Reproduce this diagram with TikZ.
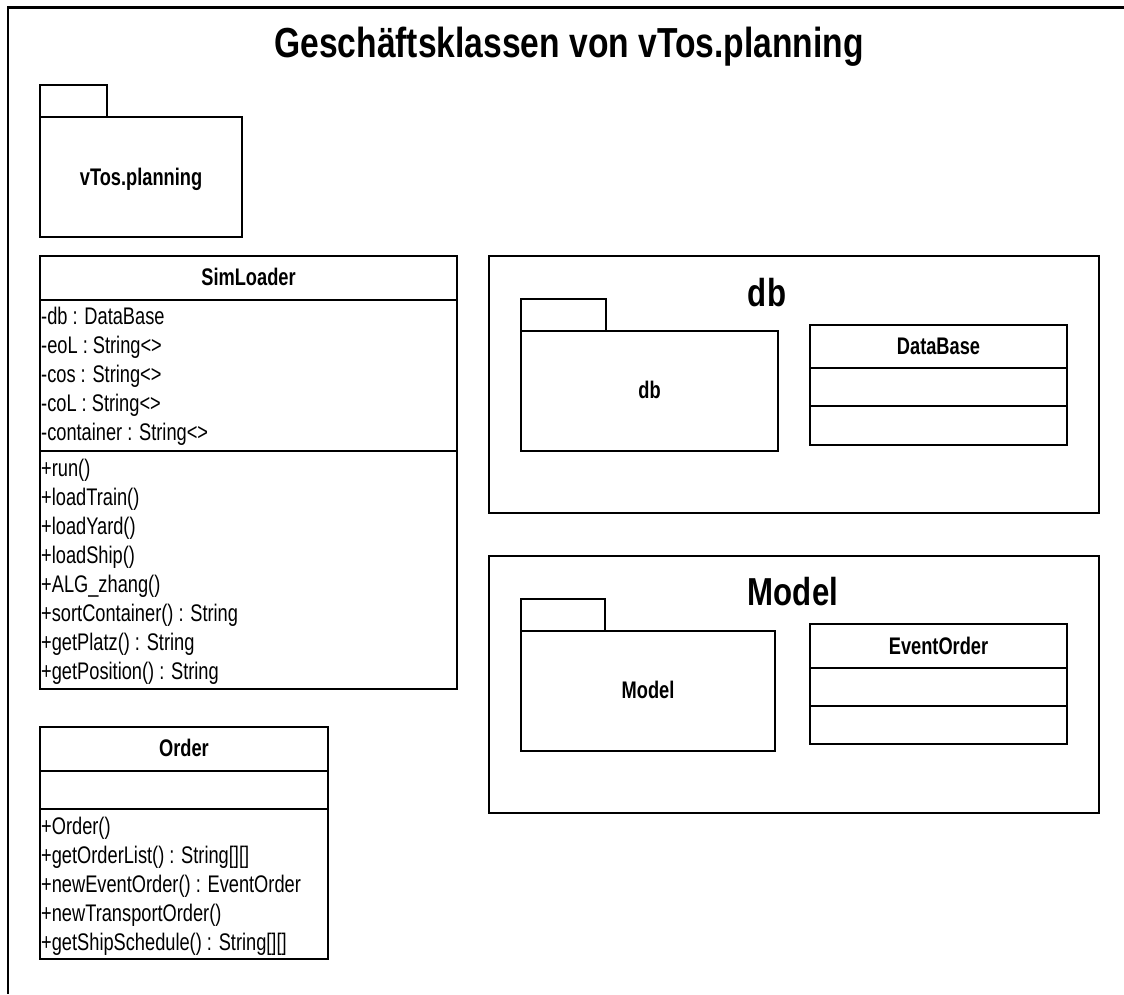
\documentclass[tikz,border=0pt]{standalone}
\usepackage{fontspec}
\setmainfont{Liberation Sans}[FakeStretch=0.8]
\newfontfamily\memberfont{Liberation Sans}[FakeStretch=0.76]
\begin{document}
\begin{tikzpicture}[x=1pt,y=-1pt,
  box/.style={draw=black,line width=2pt},
  frame/.style={draw=black,line width=2.5pt},
  member/.style={anchor=base west,inner sep=0pt,font=\memberfont\fontsize{24}{28}\selectfont},
  cname/.style={anchor=base,inner sep=0pt,font=\memberfont\fontsize{24}{28}\selectfont\bfseries},
  ptitle/.style={anchor=base,inner sep=0pt,font=\fontsize{39}{44}\selectfont\bfseries},
]
\useasboundingbox (0,0) rectangle (1124,994);
\fill[white] (0,0) rectangle (1124,994);

% outer diagram frame, cut off by the page edge
\draw[frame] (1124,7.5) -- (8,7.5) -- (8,994);
\node[anchor=base,inner sep=0pt,font=\fontsize{42}{46}\selectfont\bfseries] (title) at (569,57) {Geschäftsklassen von vTos.planning};

% package vTos.planning
\draw[box] (40,85) rectangle (107,117);
\draw[box] (40,117) rectangle (242,237);
\node[cname] (pkgplanning) at (141,185) {vTos.planning};

% class SimLoader
\draw[box] (40,256) rectangle (457,689);
\draw[box] (40,300) -- (457,300);
\draw[box] (40,451) -- (457,451);
\node[cname] (simloader) at (248.5,285) {SimLoader};
\node[member] (sa1) at (41,324) {-db : DataBase};
\node[member] (sa2) at (41,353) {-eoL : String<>};
\node[member] (sa3) at (41,382) {-cos : String<>};
\node[member] (sa4) at (41,411) {-coL : String<>};
\node[member] (sa5) at (41,440) {-container : String<>};
\node[member] (sm1) at (41,476) {+run()};
\node[member] (sm2) at (41,505) {+loadTrain()};
\node[member] (sm3) at (41,534) {+loadYard()};
\node[member] (sm4) at (41,563) {+loadShip()};
\node[member] (sm5) at (41,592) {+ALG\_zhang()};
\node[member] (sm6) at (41,621) {+sortContainer() : String};
\node[member] (sm7) at (41,650) {+getPlatz() : String};
\node[member] (sm8) at (41,679) {+getPosition() : String};

% class Order
\draw[box] (40,727) rectangle (328,959);
\draw[box] (40,771) -- (328,771);
\draw[box] (40,809) -- (328,809);
\node[cname] (order) at (184,756) {Order};
\node[member] (om1) at (41,834) {+Order()};
\node[member] (om2) at (41,863) {+getOrderList() : String[][]};
\node[member] (om3) at (41,892) {+newEventOrder() : EventOrder};
\node[member] (om4) at (41,921) {+newTransportOrder()};
\node[member] (om5) at (41,950) {+getShipSchedule() : String[][]};

% frame db
\draw[box] (489,256) rectangle (1099,513);
\node[ptitle] (dbtitle) at (767,306) {db};
\draw[box] (521,299) rectangle (606,331);
\draw[box] (521,331) rectangle (778,451);
\node[cname] (pkgdb) at (649.5,398) {db};
\draw[box] (810,325) rectangle (1067,445);
\draw[box] (810,368) -- (1067,368);
\draw[box] (810,406) -- (1067,406);
\node[cname] (database) at (938.5,354) {DataBase};

% frame Model
\draw[box] (489,556) rectangle (1099,813);
\node[ptitle] (modeltitle) at (793,605) {Model};
\draw[box] (521,599) rectangle (605,631);
\draw[box] (521,631) rectangle (775,751);
\node[cname] (pkgmodel) at (648,698) {Model};
\draw[box] (810,624) rectangle (1067,744);
\draw[box] (810,668) -- (1067,668);
\draw[box] (810,706) -- (1067,706);
\node[cname] (eventorder) at (938.5,654) {EventOrder};
\end{tikzpicture}
\end{document}
